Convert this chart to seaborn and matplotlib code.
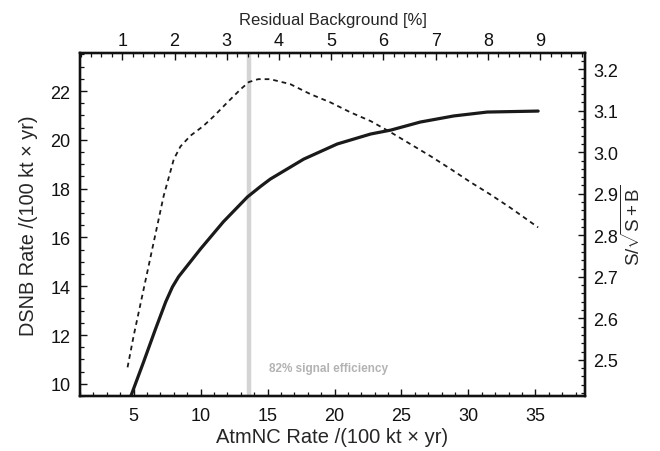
import numpy as np
import pandas as pd
import matplotlib
matplotlib.use("Agg")
import matplotlib.pyplot as plt
import seaborn as sns
from matplotlib.ticker import MultipleLocator

# DSNB rate (left axis) vs AtmNC rate
atm_solid = [4.8, 5.75, 6.64, 7.4, 7.9, 8.36, 10.0, 11.7, 13.5, 14.5, 15.2,
             17.7, 20.2, 22.7, 24.2, 26.4, 28.9, 31.4, 35.2]
dsnb_rate = [9.5, 10.9, 12.25, 13.36, 13.97, 14.39, 15.53, 16.64, 17.66, 18.1, 18.39,
             19.21, 19.83, 20.24, 20.4, 20.73, 20.98, 21.14, 21.18]

# S/sqrt(S+B) (right axis) vs AtmNC rate
atm_dash = [4.55, 5.0, 5.75, 6.5, 7.24, 8.0, 8.5, 9.25, 10.2, 11.0, 12.0, 13.0, 13.6,
            14.3, 15.2, 16.7, 18.2, 19.7, 21.2, 22.7, 24.2, 25.7, 27.2, 28.7, 30.15,
            31.6, 33.1, 35.2]
significance = [2.482, 2.557, 2.67, 2.783, 2.894, 2.983, 3.014, 3.04, 3.063, 3.087, 3.12,
                3.152, 3.169, 3.176, 3.176, 3.164, 3.14, 3.12, 3.096, 3.075, 3.048, 3.019,
                2.99, 2.959, 2.928, 2.899, 2.867, 2.819]

# residual background [%] on the top axis
resid_ticks = [1, 2, 3, 4, 5, 6, 7, 8, 9]
cut_atm = 13.6
cut_label = "82% signal efficiency"

sns.set_style("ticks")
plt.rcParams['font.family'] = ['Liberation Sans', 'DejaVu Sans']
plt.rcParams['mathtext.fontset'] = 'custom'
plt.rcParams['mathtext.rm'] = 'Liberation Sans'
plt.rcParams['mathtext.it'] = 'Liberation Sans:italic'

fig = plt.figure(figsize=(6.6, 4.52), dpi=100)
ax = fig.add_axes([0.1212, 0.1217, 0.7652, 0.7588])
ax_r = ax.twinx()
ax_t = ax.twiny()

df_s = pd.DataFrame({"atm": atm_solid, "rate": dsnb_rate})
df_d = pd.DataFrame({"atm": atm_dash, "sig": significance})

ax.axvline(cut_atm, color="#d4d4d4", lw=3.2, zorder=1)
sns.lineplot(data=df_s, x="atm", y="rate", ax=ax, color="#1a1a1a", lw=2.3,
             sort=False, zorder=3)
sns.lineplot(data=df_d, x="atm", y="sig", ax=ax_r, color="#1a1a1a", lw=1.3,
             sort=False, dashes=False, zorder=3)
ax_r.lines[0].set_dashes((2.6, 2.2))
ax.text(15.1, 10.65, cut_label, fontsize=8.5, fontweight="bold", color="#b3b3b3",
        ha="left", va="center")

ax.set_xlim(1.0, 38.7)
ax.set_ylim(9.5, 23.56)
ax_r.set_ylim(2.413, 3.239)
ax_t.set_xlim(0.19, 9.86)

ax.xaxis.set_minor_locator(MultipleLocator(1))
ax.yaxis.set_minor_locator(MultipleLocator(0.5))
ax_r.yaxis.set_minor_locator(MultipleLocator(0.02))
ax_t.xaxis.set_minor_locator(MultipleLocator(0.2))
ax_t.set_xticks(resid_ticks)
ax.set_xticks([5, 10, 15, 20, 25, 30, 35])
ax.set_yticks([10, 12, 14, 16, 18, 20, 22])
sig_ticks = [2.5, 2.6, 2.7, 2.8, 2.9, 3.0, 3.1, 3.2]
ax_r.set_yticks(sig_ticks)
ax_r.set_yticklabels([f"{v:.1f}" for v in sig_ticks])

for a in (ax, ax_r, ax_t):
    for s in a.spines.values():
        s.set_visible(True)
        s.set_linewidth(1.6)
        s.set_color("#111111")
    a.tick_params(which="major", direction="in", length=5, width=1.0,
                  labelsize=13, colors="#111111", pad=8)
    a.tick_params(which="minor", direction="in", length=2.8, width=0.9,
                  colors="#111111")

ax.tick_params(which="both", top=False, right=False)
ax.tick_params(axis="x", pad=8)
ax.tick_params(axis="y", pad=7)
ax_r.tick_params(which="both", left=False)
ax_r.tick_params(axis="y", pad=6)
ax_t.tick_params(which="both", bottom=False)
ax_t.tick_params(axis="x", pad=3)

ax.set_xlabel("AtmNC Rate /(100 kt \u00d7 yr)", fontsize=14.5, labelpad=2)
ax.set_ylabel("DSNB Rate /(100 kt \u00d7 yr)", fontsize=14.3, labelpad=9)
ax_t.set_xlabel("Residual Background [%]", fontsize=12, labelpad=6)
ax_r.set_ylabel(r"S/$\sqrt{\mathrm{S+B}}$", fontsize=13.5, labelpad=2)
ax.grid(False)

fig.savefig("out.png", dpi=100)
